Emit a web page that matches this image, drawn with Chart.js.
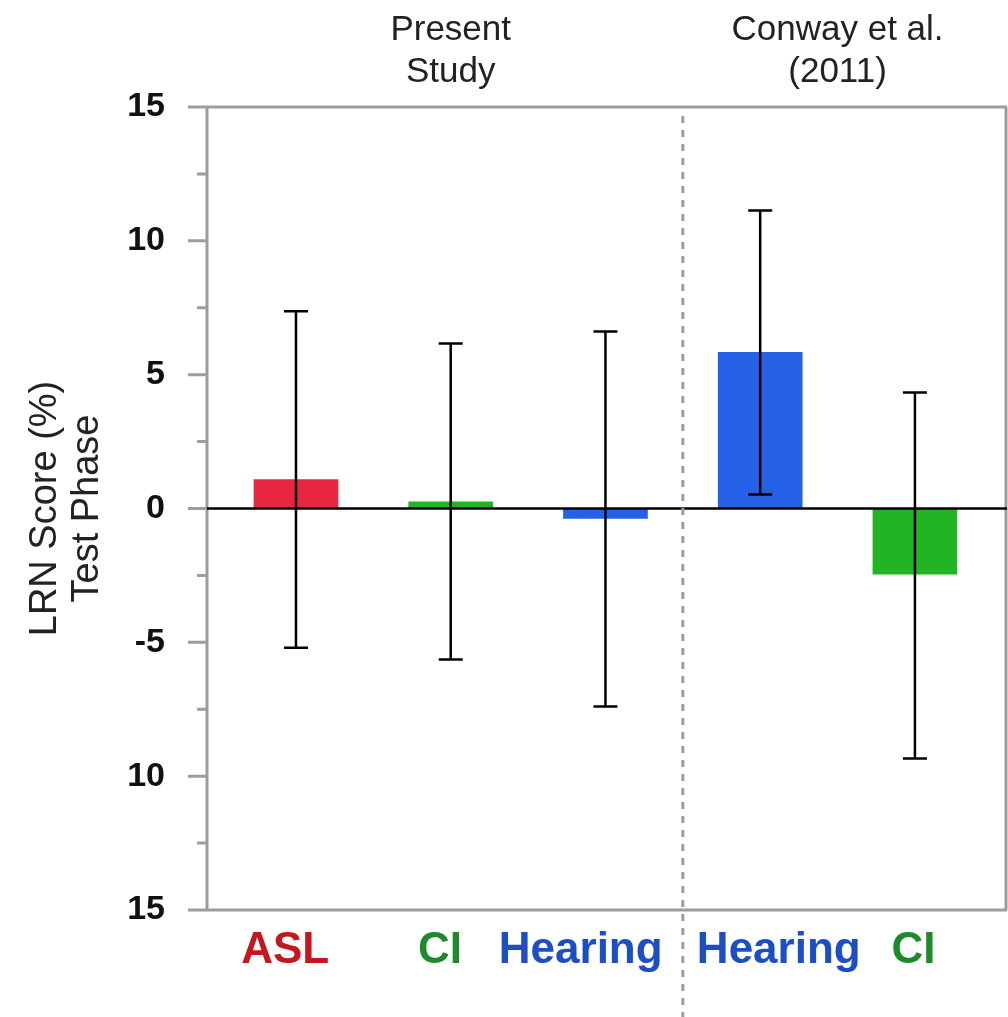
<!DOCTYPE html>
<html>
<head>
<meta charset="utf-8">
<script src="https://cdn.jsdelivr.net/npm/chart.js@4"></script>
<style>
  body { margin: 0; background: #fff; }
  #wrap { width: 1008px; height: 1017px; position: relative; }
</style>
</head>
<body>
<div id="wrap"><canvas id="lrnChart"></canvas></div>
<script>
const categories = ['ASL', 'CI', 'Hearing', 'Hearing', 'CI'];
const means = [1.08, 0.25, -0.37, 5.83, -2.45];
const errHigh = [7.37, 6.16, 6.61, 11.13, 4.33];
const errLow = [-5.2, -5.64, -7.4, 0.52, -9.34];
const groupNames = [['Present', 'Study'], ['Conway et al.', '(2011)']];
const groupSizes = [3, 2];
const yTickValues = [15, 10, 5, 0, -5, -10, -15];
const yTickText = ['15', '10', '5', '0', '-5', '10', '15'];

const barColors = ['#e8263f', '#22b424', '#2461e6', '#2461e6', '#22b424'];
const labelColors = ['#c4161d', '#1e8a2c', '#1c4fc4', '#1c4fc4', '#1e8a2c'];
// small nudges so the labels sit where the original put them (category units)
const labelShift = [-0.07, -0.07, -0.16, 0.12, -0.01];
const FONT = "'Liberation Sans', Arial, sans-serif";
const GRAY = '#9c9c9c';

// frame, ticks, zero line, error bars, group divider and headers
const extras = {
  id: 'extras',
  beforeDatasetsDraw(chart) {
    const { ctx, chartArea: a, scales: { y } } = chart;
    ctx.save();
    ctx.strokeStyle = GRAY;
    ctx.lineWidth = 3;
    ctx.beginPath();
    ctx.moveTo(a.left - 19, a.top); ctx.lineTo(a.right, a.top);
    ctx.moveTo(a.left - 19, a.bottom); ctx.lineTo(a.right, a.bottom);
    ctx.moveTo(a.left, a.top); ctx.lineTo(a.left, a.bottom);
    ctx.moveTo(a.right - 1, a.top); ctx.lineTo(a.right - 1, a.bottom);
    y.ticks.forEach(t => {
      const py = y.getPixelForValue(t.value);
      const len = Math.abs(t.value % 5) < 1e-6 ? 19 : 10;
      ctx.moveTo(a.left - len, py); ctx.lineTo(a.left, py);
    });
    ctx.stroke();
    ctx.restore();
  },
  afterDatasetsDraw(chart) {
    const { ctx, chartArea: a, scales: { x, y } } = chart;
    const meta = chart.getDatasetMeta(0);
    ctx.save();
    // zero line
    const y0 = y.getPixelForValue(0);
    ctx.strokeStyle = '#000';
    ctx.lineWidth = 2.5;
    ctx.beginPath();
    ctx.moveTo(a.left, y0); ctx.lineTo(a.right, y0);
    ctx.stroke();
    // error bars
    meta.data.forEach((bar, i) => {
      const yt = y.getPixelForValue(errHigh[i]);
      const yb = y.getPixelForValue(errLow[i]);
      ctx.beginPath();
      ctx.moveTo(bar.x, yt); ctx.lineTo(bar.x, yb);
      ctx.moveTo(bar.x - 12, yt); ctx.lineTo(bar.x + 12, yt);
      ctx.moveTo(bar.x - 12, yb); ctx.lineTo(bar.x + 12, yb);
      ctx.stroke();
    });
    // dashed divider between the two studies
    const xd = x.getPixelForValue(groupSizes[0] - 0.5);
    ctx.strokeStyle = GRAY;
    ctx.lineWidth = 3;
    ctx.setLineDash([7, 7]);
    ctx.beginPath();
    ctx.moveTo(xd, a.top + 9); ctx.lineTo(xd, chart.height);
    ctx.stroke();
    ctx.setLineDash([]);
    // group headers
    ctx.fillStyle = '#222';
    ctx.font = '35px ' + FONT;
    ctx.textAlign = 'center';
    ctx.textBaseline = 'alphabetic';
    let start = 0;
    groupNames.forEach((lines, g) => {
      const cx = x.getPixelForValue(start + (groupSizes[g] - 1) / 2);
      lines.forEach((ln, k) => ctx.fillText(ln, cx, 40 + k * 42));
      start += groupSizes[g];
    });
    ctx.restore();
  }
};

new Chart(document.getElementById('lrnChart'), {
  type: 'bar',
  data: {
    datasets: [{
      data: categories.map((c, i) => ({ x: i, y: means[i] })),
      backgroundColor: barColors,
      borderWidth: 0,
      barThickness: 84
    }]
  },
  options: {
    responsive: true,
    maintainAspectRatio: false,
    animation: false,
    layout: { padding: { top: 107, right: 1, left: 0, bottom: 0 } },
    plugins: { legend: { display: false }, tooltip: { enabled: false } },
    scales: {
      x: {
        type: 'linear',
        offset: false,
        min: -0.575,
        max: 4.595,
        afterFit: s => { s.height = 107; },
        afterBuildTicks: s => { s.ticks = categories.map((c, i) => ({ value: i + labelShift[i] })); },
        grid: { display: false, drawTicks: false },
        border: { display: false },
        ticks: {
          autoSkip: false,
          maxRotation: 0,
          padding: 14,
          callback: (v, i) => categories[i],
          color: c => labelColors[c.index],
          font: { family: FONT, size: 44, weight: 'bold' }
        }
      },
      y: {
        min: -15,
        max: 15,
        afterFit: s => { s.width = 207; },
        grid: { display: false, drawTicks: false },
        border: { display: false },
        ticks: {
          stepSize: 2.5,
          autoSkip: false,
          padding: 42,
          color: '#111',
          font: { family: FONT, size: 34, weight: 'bold' },
          callback: v => {
            const k = yTickValues.findIndex(t => Math.abs(t - v) < 1e-6);
            return k < 0 ? '' : yTickText[k];
          }
        },
        title: {
          display: true,
          text: ['LRN Score (%)', 'Test Phase'],
          color: '#222',
          font: { family: FONT, size: 38, lineHeight: 1.1 },
          padding: { top: 25, bottom: 0 }
        }
      }
    }
  },
  plugins: [extras]
});
</script>
</body>
</html>
